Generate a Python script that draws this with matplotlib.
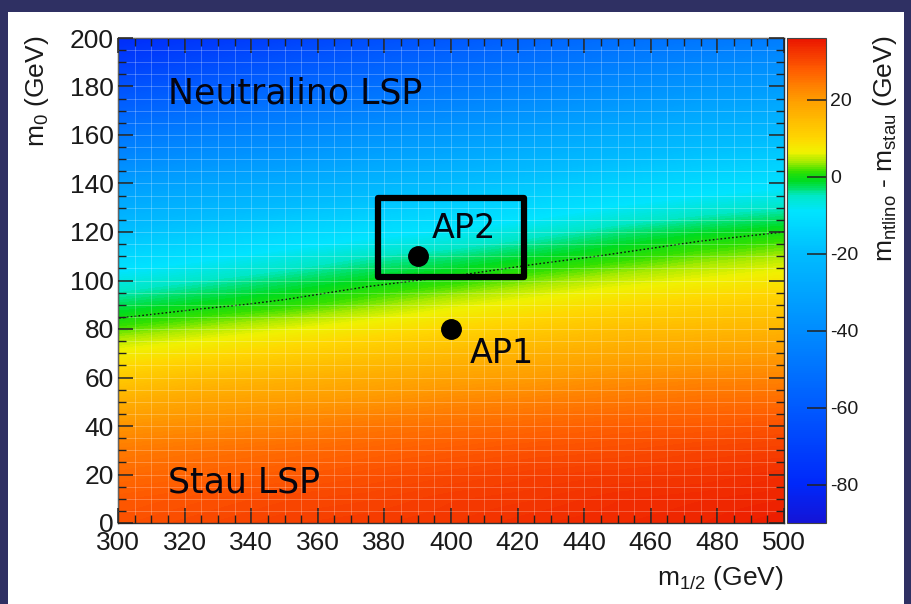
import numpy as np
import matplotlib
matplotlib.use("Agg")
import matplotlib.pyplot as plt
from matplotlib.colors import LinearSegmentedColormap, Normalize
from matplotlib.patches import Rectangle
from matplotlib.ticker import MultipleLocator

plt.rcParams["mathtext.fontset"] = "custom"
plt.rcParams["mathtext.rm"] = "Liberation Sans"
plt.rcParams["mathtext.it"] = "Liberation Sans"
plt.rcParams["mathtext.default"] = "rm"
plt.rcParams["axes.unicode_minus"] = False

# ---------------- data ----------------
m12_nodes = [300, 325, 350, 375, 400, 425, 450, 475, 500]
m0_nodes = [0, 10, 20, 30, 40, 50, 60, 70, 80, 90, 100,
            110, 120, 130, 140, 150, 160, 170, 180, 190, 200]
# m_ntlino - m_stau (GeV); one row per m0 node, one column per m1/2 node
delta_mass = [
    [29, 30, 31, 31.5, 32, 33, 33.5, 34, 35],
    [28, 29, 30, 30.5, 31.5, 32, 33, 33.5, 34],
    [26, 27, 28, 29, 30, 31, 31.5, 32, 33],
    [24, 25, 26, 27, 28, 29, 29.5, 30.5, 31],
    [21, 22, 23, 24.5, 25.5, 26.5, 27.5, 28, 29],
    [17, 19, 20, 21, 22.5, 23.5, 24.5, 25.5, 26],
    [12, 14.5, 16, 17.5, 19, 20, 21.5, 22.5, 23],
    [7, 9, 11, 13, 15, 16.5, 18, 19, 20],
    [2, 4, 6, 8, 10, 12, 14, 15, 16],
    [-2.5, -0.8, 0.8, 3, 5.5, 7.5, 9.5, 11, 12],
    [-7, -5, -3, -1, 0.7, 3, 5, 6.5, 8],
    [-12.5, -10, -7.5, -5, -3.5, -1.5, 0.5, 2.5, 4],
    [-19, -16, -13, -10.5, -8.5, -6, -3.5, -1.5, 0],
    [-26, -22.5, -19.5, -16.5, -14, -11.5, -8.5, -6.5, -5],
    [-33, -29.5, -26.5, -23, -20, -17, -14, -11.5, -10],
    [-41, -37, -34, -30, -27, -23, -20, -17, -15],
    [-48, -44, -41, -37, -34, -30, -26, -22.5, -20.5],
    [-56, -52, -48, -44.5, -41, -37, -33, -29, -26.5],
    [-63, -59, -55, -51.5, -47.5, -43.5, -39.5, -35.5, -33],
    [-71, -66.5, -62, -58, -54, -50, -46, -42, -39],
    [-78, -74, -70, -65, -61, -56, -52, -49, -46],
]
point_names = ["AP1", "AP2"]
point_m12 = [400, 390]
point_m0 = [80, 110]
region_labels = ["Neutralino LSP", "Stau LSP"]
cbar_ticks = [-80, -60, -40, -20, 0, 20]

# ---------------- style ----------------
vmin, vmax = -90, 36
anchors = [
    (-90, (20, 20, 215)), (-80, (0, 40, 250)), (-60, (0, 90, 255)),
    (-40, (0, 140, 255)), (-20, (0, 188, 255)), (-9, (0, 228, 255)),
    (-5, (0, 232, 200)), (-3, (0, 225, 110)), (-1, (0, 220, 30)),
    (1.5, (50, 225, 0)), (4, (170, 235, 0)), (6.5, (240, 242, 0)),
    (10, (255, 215, 0)), (20, (255, 158, 0)), (28, (255, 92, 0)),
    (36, (235, 22, 0)),
]
cmap = LinearSegmentedColormap.from_list(
    "rootlike",
    [((v - vmin) / (vmax - vmin), tuple(c / 255 for c in col)) for v, col in anchors])
norm = Normalize(vmin=vmin, vmax=vmax)

W, H = 912, 604
fig = plt.figure(figsize=(W / 100, H / 100), dpi=100)
fig.patch.set_facecolor("#2f3063")
fig.patches.append(Rectangle((8 / W, 0), (W - 16) / W, (H - 12) / H,
                             transform=fig.transFigure, facecolor="white",
                             edgecolor="none", zorder=-10))

ax = fig.add_axes([118 / W, (H - 523) / H, 666 / W, 485 / H])
cax = fig.add_axes([787 / W, (H - 523) / H, 39 / W, 485 / H])

Z = np.array(delta_mass, dtype=float)
x = np.array(m12_nodes, dtype=float)
y = np.array(m0_nodes, dtype=float)
dx = (x[1] - x[0]) / 2
dy = (y[1] - y[0]) / 2
im = ax.imshow(Z, origin="lower", cmap=cmap, norm=norm, aspect="auto",
               extent=(x[0] - dx, x[-1] + dx, y[0] - dy, y[-1] + dy),
               interpolation="bilinear", interpolation_stage="data")
ax.contour(x, y, Z, levels=[0], colors="#111111", linewidths=1.0,
           linestyles=[(0, (1.2, 1.6))])

ax.set_xlim(300, 500)
ax.set_ylim(0, 200)
ax.xaxis.set_major_locator(MultipleLocator(20))
ax.xaxis.set_minor_locator(MultipleLocator(5))
ax.yaxis.set_major_locator(MultipleLocator(20))
ax.yaxis.set_minor_locator(MultipleLocator(5))
ax.grid(which="both", color="white", alpha=0.25, linewidth=0.7)
ax.set_axisbelow(False)
ax.tick_params(which="both", direction="in", top=True, right=True,
               color="#222222", labelsize=19)
ax.tick_params(axis="x", pad=6)
ax.tick_params(axis="y", pad=3)
ax.tick_params(which="major", length=11, width=1.1)
ax.tick_params(which="minor", length=6, width=1.0)
for lab in ax.get_xticklabels() + ax.get_yticklabels():
    lab.set_family("Liberation Sans")
    lab.set_color("#1a1a1a")
for s in ax.spines.values():
    s.set_color("#333333")
    s.set_linewidth(1.0)

ax.text(1.0, -0.085, r"m$_{1/2}$ (GeV)", transform=ax.transAxes,
        ha="right", va="top", fontsize=19, family="Liberation Sans", color="#1a1a1a")
fig.text(37 / W, 1 - 36 / H, r"m$_{0}$ (GeV)", rotation=90, ha="center", va="top",
         fontsize=19, family="Liberation Sans", color="#1a1a1a")

# points and labels
ax.plot(point_m12, point_m0, "o", color="black", markersize=14, zorder=5)
ax.text(point_m12[0] + 5.7, point_m0[0] - 10, point_names[0], fontsize=24,
        family="DejaVu Sans", va="center", ha="left", color="#050510", zorder=6)
ax.text(point_m12[1] + 4.3, point_m0[1] + 11.5, point_names[1], fontsize=24,
        family="DejaVu Sans", va="center", ha="left", color="#050510", zorder=6)
ax.add_patch(Rectangle((378, 101.5), 44, 32.5, fill=False, edgecolor="black",
                       linewidth=4.5, joinstyle="round", zorder=6))

ax.text(315, 173, region_labels[0], fontsize=25, family="DejaVu Sans",
        ha="left", va="baseline", color="#050510")
ax.text(315, 12.5, region_labels[1], fontsize=25, family="DejaVu Sans",
        ha="left", va="baseline", color="#050510")

# colorbar
cb = fig.colorbar(im, cax=cax, ticks=cbar_ticks)
cb.outline.set_edgecolor("#444444")
cb.outline.set_linewidth(0.8)
cax.tick_params(direction="in", length=14, width=1.1, color="#222222",
                labelsize=14, pad=3, right=True)
for lab in cax.get_yticklabels():
    lab.set_family("Liberation Sans")
    lab.set_color("#1a1a1a")
fig.text(885 / W, 1 - 36 / H, r"m$_{\rm ntlino}$ - m$_{\rm stau}$ (GeV)", rotation=90,
         ha="center", va="top", fontsize=19, family="Liberation Sans", color="#1a1a1a")

fig.savefig("out.png", dpi=100, facecolor=fig.get_facecolor())
